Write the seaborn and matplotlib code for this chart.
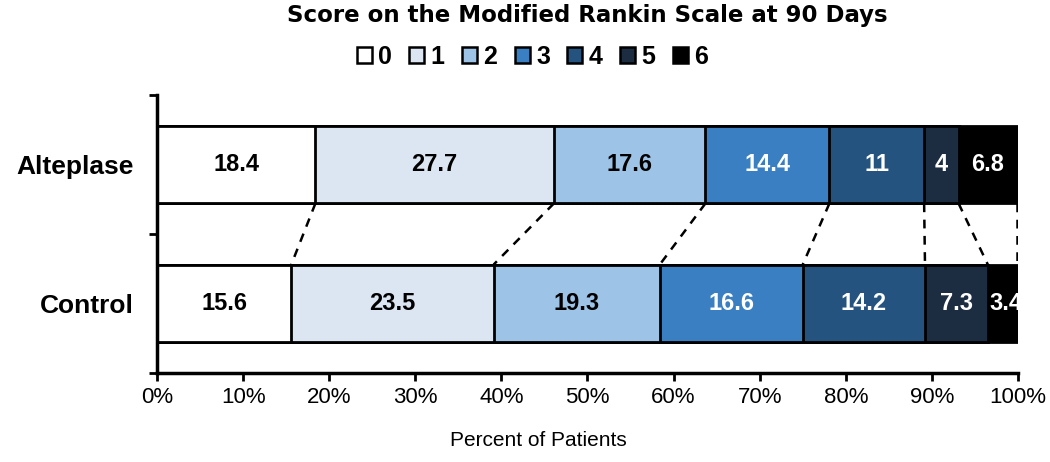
import numpy as np
import pandas as pd
import matplotlib
matplotlib.use("Agg")
import matplotlib.pyplot as plt
import seaborn as sb
from matplotlib.patches import Patch

# datos
grupos = ["Alteplase", "Control"]
puntajes = ["0", "1", "2", "3", "4", "5", "6"]
alteplase = [18.4, 27.7, 17.6, 14.4, 11, 4, 6.8]
control = [15.6, 23.5, 19.3, 16.6, 14.2, 7.3, 3.4]
colores = ["#ffffff", "#dce6f2", "#9dc3e6", "#3b7fc3", "#24537f", "#1c2d42", "#000000"]
color_texto = ["black", "black", "black", "white", "white", "white", "white"]
ticks_x = [0, 10, 20, 30, 40, 50, 60, 70, 80, 90, 100]

sb.set_style("white")
plt.rcParams["font.family"] = ["Liberation Sans", "DejaVu Sans"]
plt.rcParams["text.color"] = "black"
plt.rcParams["axes.labelcolor"] = "black"
plt.rcParams["xtick.color"] = "black"
plt.rcParams["ytick.color"] = "black"

valores = np.array([alteplase, control])
acumulado = valores.cumsum(axis=1)

fig = plt.figure(figsize=(10.5, 4.62), dpi=100)
ax = fig.add_axes([0.1495, 0.1926, 0.82, 0.6018])

ancho = 0.56
# barras apiladas: se dibuja el acumulado de mayor a menor
for i in range(len(puntajes) - 1, -1, -1):
    df = pd.DataFrame({"grupo": grupos, "valor": acumulado[:, i]})
    sb.barplot(data=df, x="valor", y="grupo", orient="h", order=grupos,
               color=colores[i], saturation=1, width=ancho,
               edgecolor="black", linewidth=2, ax=ax)

# etiquetas de cada segmento
for g in range(len(grupos)):
    for i in range(len(puntajes)):
        inicio = acumulado[g, i] - valores[g, i]
        centro = inicio + valores[g, i] / 2
        if g == 1 and i == 6:
            centro = inicio + valores[g, i] / 2 + 0.4
        ax.text(centro, g, f"{valores[g, i]:g}", ha="center", va="center",
                fontsize=17, fontweight="bold", color=color_texto[i])

# lineas punteadas entre barras
for i in range(len(puntajes)):
    ax.plot([acumulado[0, i], acumulado[1, i]], [ancho / 2, 1 - ancho / 2],
            color="black", linestyle=(0, (3.5, 3)), linewidth=1.8)

ax.set_xlim(0, 100)
ax.set_ylim(1.5, -0.5)
ax.set_xticks(ticks_x)
ax.set_xticklabels([f"{t}%" for t in ticks_x], fontsize=16)
ax.set_yticks([0, 1])
ax.set_yticklabels(grupos, fontsize=19, fontweight="bold")
ax.set_yticks([-0.5, 0.5, 1.5], minor=True)
ax.tick_params(axis="y", which="major", length=0, pad=17)
ax.tick_params(axis="y", which="minor", length=6, width=2, direction="out", color="black", left=True)
ax.tick_params(axis="x", length=6, width=2, direction="out", color="black", bottom=True, pad=4)
ax.set_xlabel("Percent of Patients", fontsize=15)
ax.xaxis.set_label_coords(0.4425, -0.21)
ax.set_ylabel("")

for s in ["top", "right"]:
    ax.spines[s].set_visible(False)
for s in ["left", "bottom"]:
    ax.spines[s].set_color("black")
    ax.spines[s].set_linewidth(2.5)

fig.text(0.559, 0.967, "Score on the Modified Rankin Scale at 90 Days",
         ha="center", va="center", fontsize=16.5, fontweight="bold",
         family=["DejaVu Sans"])

handles = [Patch(facecolor=c, edgecolor="black", linewidth=1.8) for c in colores]
fig.legend(handles, puntajes, loc="center", bbox_to_anchor=(0.507, 0.877), ncol=7,
           frameon=False, handlelength=0.6, handleheight=0.6, handletextpad=0.25,
           columnspacing=0.7, prop={"size": 18, "weight": "bold"})

fig.savefig("out.png", dpi=100)
